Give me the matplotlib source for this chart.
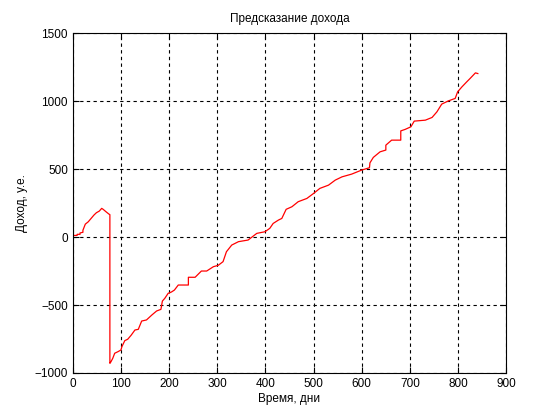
import matplotlib
matplotlib.use("Agg")
import matplotlib.pyplot as plt

# Прогноз дохода
days = [0, 9, 9, 15, 15, 21, 21, 26, 32, 38, 44, 49, 55, 60, 63, 69, 75, 77,
        77, 79, 83, 87, 94, 100, 102, 108, 114, 121, 129, 136, 143, 153, 164,
        174, 183, 186, 191, 198, 205, 211, 219, 240, 240, 254, 267, 278, 292,
        302, 312, 319, 330, 344, 364, 382, 399, 409, 416, 427, 434, 443, 455,
        468, 486, 500, 513, 531, 545, 559, 579, 600, 616, 617, 624, 638, 650,
        650, 662, 681, 681, 690, 702, 709, 732, 746, 756, 766, 780, 794, 799,
        808, 818, 825, 836, 841]
income = [12, 12, 20, 20, 30, 35, 50, 95, 112, 137, 162, 179, 191, 211, 204,
          186, 169, 165, -929, -919, -892, -855, -843, -831, -806, -762, -752,
          -723, -684, -679, -618, -610, -574, -544, -532, -471, -451, -414,
          -404, -390, -353, -353, -296, -296, -250, -250, -218, -208, -181,
          -108, -59, -34, -22, 27, 39, 64, 100, 125, 137, 204, 223, 260, 284,
          321, 358, 382, 419, 443, 463, 493, 510, 546, 586, 627, 640, 676, 713,
          713, 781, 792, 811, 853, 860, 880, 921, 978, 1002, 1020, 1068, 1105,
          1142, 1167, 1208, 1203]

plt.rcParams['font.family'] = ['Liberation Sans', 'DejaVu Sans']
plt.rcParams['font.size'] = 8.5

fig = plt.figure(figsize=(5.6, 4.2), dpi=100)
ax = fig.add_axes([0.13, 0.112, 0.774, 0.809])

ax.plot(days, income, color='red', linewidth=0.9)

ax.set_xlim(0, 900)
ax.set_ylim(-1000, 1500)
ax.set_xticks(range(0, 901, 100))
ax.set_yticks(range(-1000, 1501, 500))
ax.grid(True, color='black', linestyle=(0, (3, 3)), linewidth=0.8)
ax.tick_params(direction='in', top=True, right=True, length=4, width=0.8,
               colors='black')
for s in ax.spines.values():
    s.set_linewidth(0.8)

ax.set_title('Предсказание дохода', fontsize=8.5, pad=8)
ax.set_xlabel('Время, дни', labelpad=2)
ax.set_ylabel('Доход, у.е.', labelpad=5)

fig.savefig('out.png', dpi=100)
